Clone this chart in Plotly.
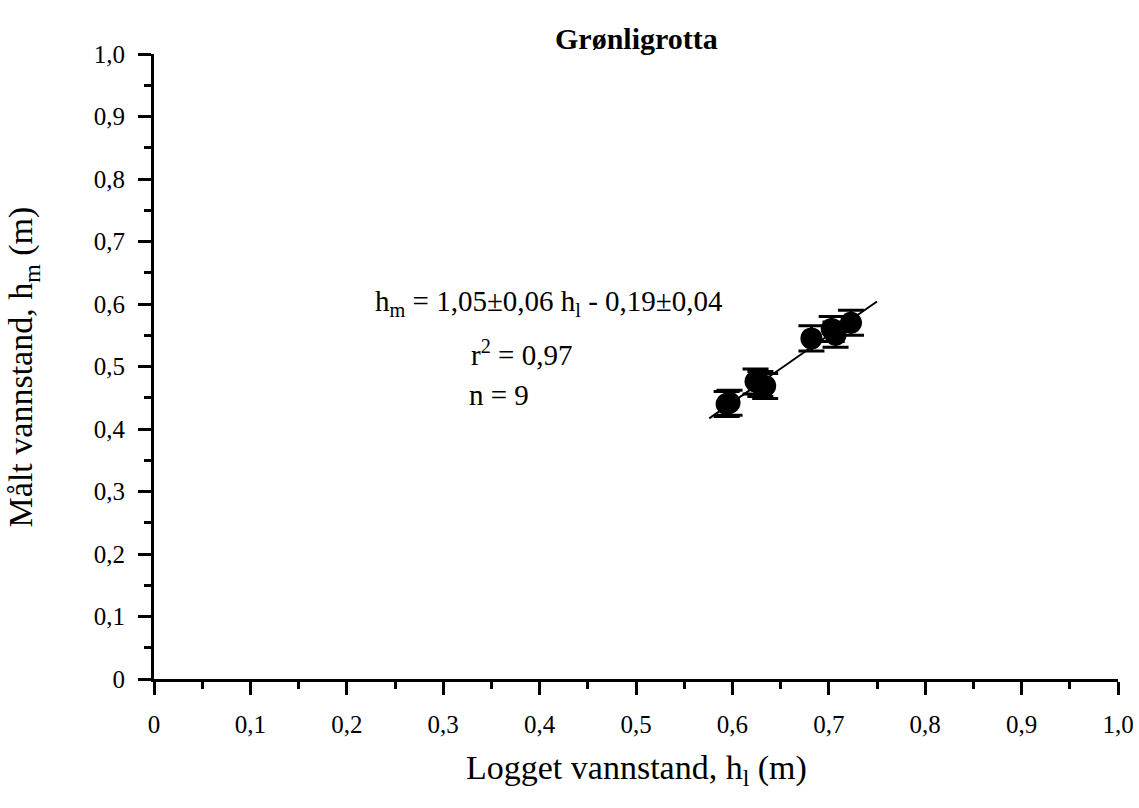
import plotly.graph_objects as go

# Data
x_logged = [0.594, 0.597, 0.624, 0.629, 0.634, 0.682, 0.703, 0.707, 0.723]
y_measured = [0.440, 0.442, 0.476, 0.472, 0.469, 0.545, 0.560, 0.551, 0.570]
y_err = [0.02, 0.02, 0.02, 0.02, 0.02, 0.02, 0.02, 0.02, 0.02]

fit_x = [0.576, 0.750]
fit_y = [0.417, 0.604]

tick_vals = [0, 0.1, 0.2, 0.3, 0.4, 0.5, 0.6, 0.7, 0.8, 0.9, 1.0]
tick_text = ["0", "0,1", "0,2", "0,3", "0,4", "0,5", "0,6", "0,7", "0,8", "0,9", "1,0"]

FONT = "Liberation Serif, Times New Roman, serif"

fig = go.Figure()
fig.add_trace(go.Scatter(
    x=fit_x, y=fit_y, mode="lines",
    line=dict(color="black", width=2), showlegend=False, hoverinfo="skip"))
fig.add_trace(go.Scatter(
    x=x_logged, y=y_measured, mode="markers",
    marker=dict(color="black", size=22),
    error_y=dict(type="data", array=y_err, visible=True, color="black",
                 thickness=3, width=13),
    showlegend=False))

axis_common = dict(
    range=[0, 1], tickvals=tick_vals, ticktext=tick_text,
    showline=True, linecolor="black", linewidth=3, mirror=False,
    ticks="outside", ticklen=13, tickwidth=3, tickcolor="black",
    showgrid=False, zeroline=False, automargin=False,
    tickfont=dict(family=FONT, size=25, color="black"),
    minor=dict(ticks="outside", ticklen=7, tickwidth=3, tickcolor="black",
               dtick=0.05, tick0=0, showgrid=False),
)

fig.update_xaxes(**axis_common, ticklabelstandoff=8)
fig.update_yaxes(**axis_common, ticklabelstandoff=8)

annotations = [
    dict(text="<b>Grønligrotta</b>", xref="paper", yref="paper", x=0.5, y=1.025,
         xanchor="center", yanchor="middle", showarrow=False,
         font=dict(family=FONT, size=30, color="black")),
    dict(text="Logget vannstand, h<sub>l</sub> (m)", xref="paper", yref="paper",
         x=0.5, y=-0.146, xanchor="center", yanchor="middle", showarrow=False,
         font=dict(family=FONT, size=34, color="black")),
    dict(text="Målt vannstand, h<sub>m</sub> (m)", xref="paper", yref="paper",
         x=-0.136, y=0.5, textangle=-90, xanchor="center", yanchor="middle",
         showarrow=False, font=dict(family=FONT, size=34, color="black")),
    dict(text="h<sub>m</sub> = 1,05±0,06 h<sub>l</sub> - 0,19±0,04", x=0.41, y=0.602,
         xref="x", yref="y", xanchor="center", yanchor="middle", showarrow=False,
         font=dict(family=FONT, size=29, color="black")),
    dict(text="r<sup>2</sup> = 0,97", x=0.381, y=0.522,
         xref="x", yref="y", xanchor="center", yanchor="middle", showarrow=False,
         font=dict(family=FONT, size=29, color="black")),
    dict(text="n = 9", x=0.358, y=0.455,
         xref="x", yref="y", xanchor="center", yanchor="middle", showarrow=False,
         font=dict(family=FONT, size=29, color="black")),
]

fig.update_layout(
    width=1139, height=808,
    margin=dict(l=154, r=21, t=54, b=129),
    paper_bgcolor="white", plot_bgcolor="white",
    annotations=annotations,
    font=dict(family=FONT, color="black"),
)

fig.write_html("out.html", config={"displayModeBar": False},
               post_script="document.body.style.margin='0';")
